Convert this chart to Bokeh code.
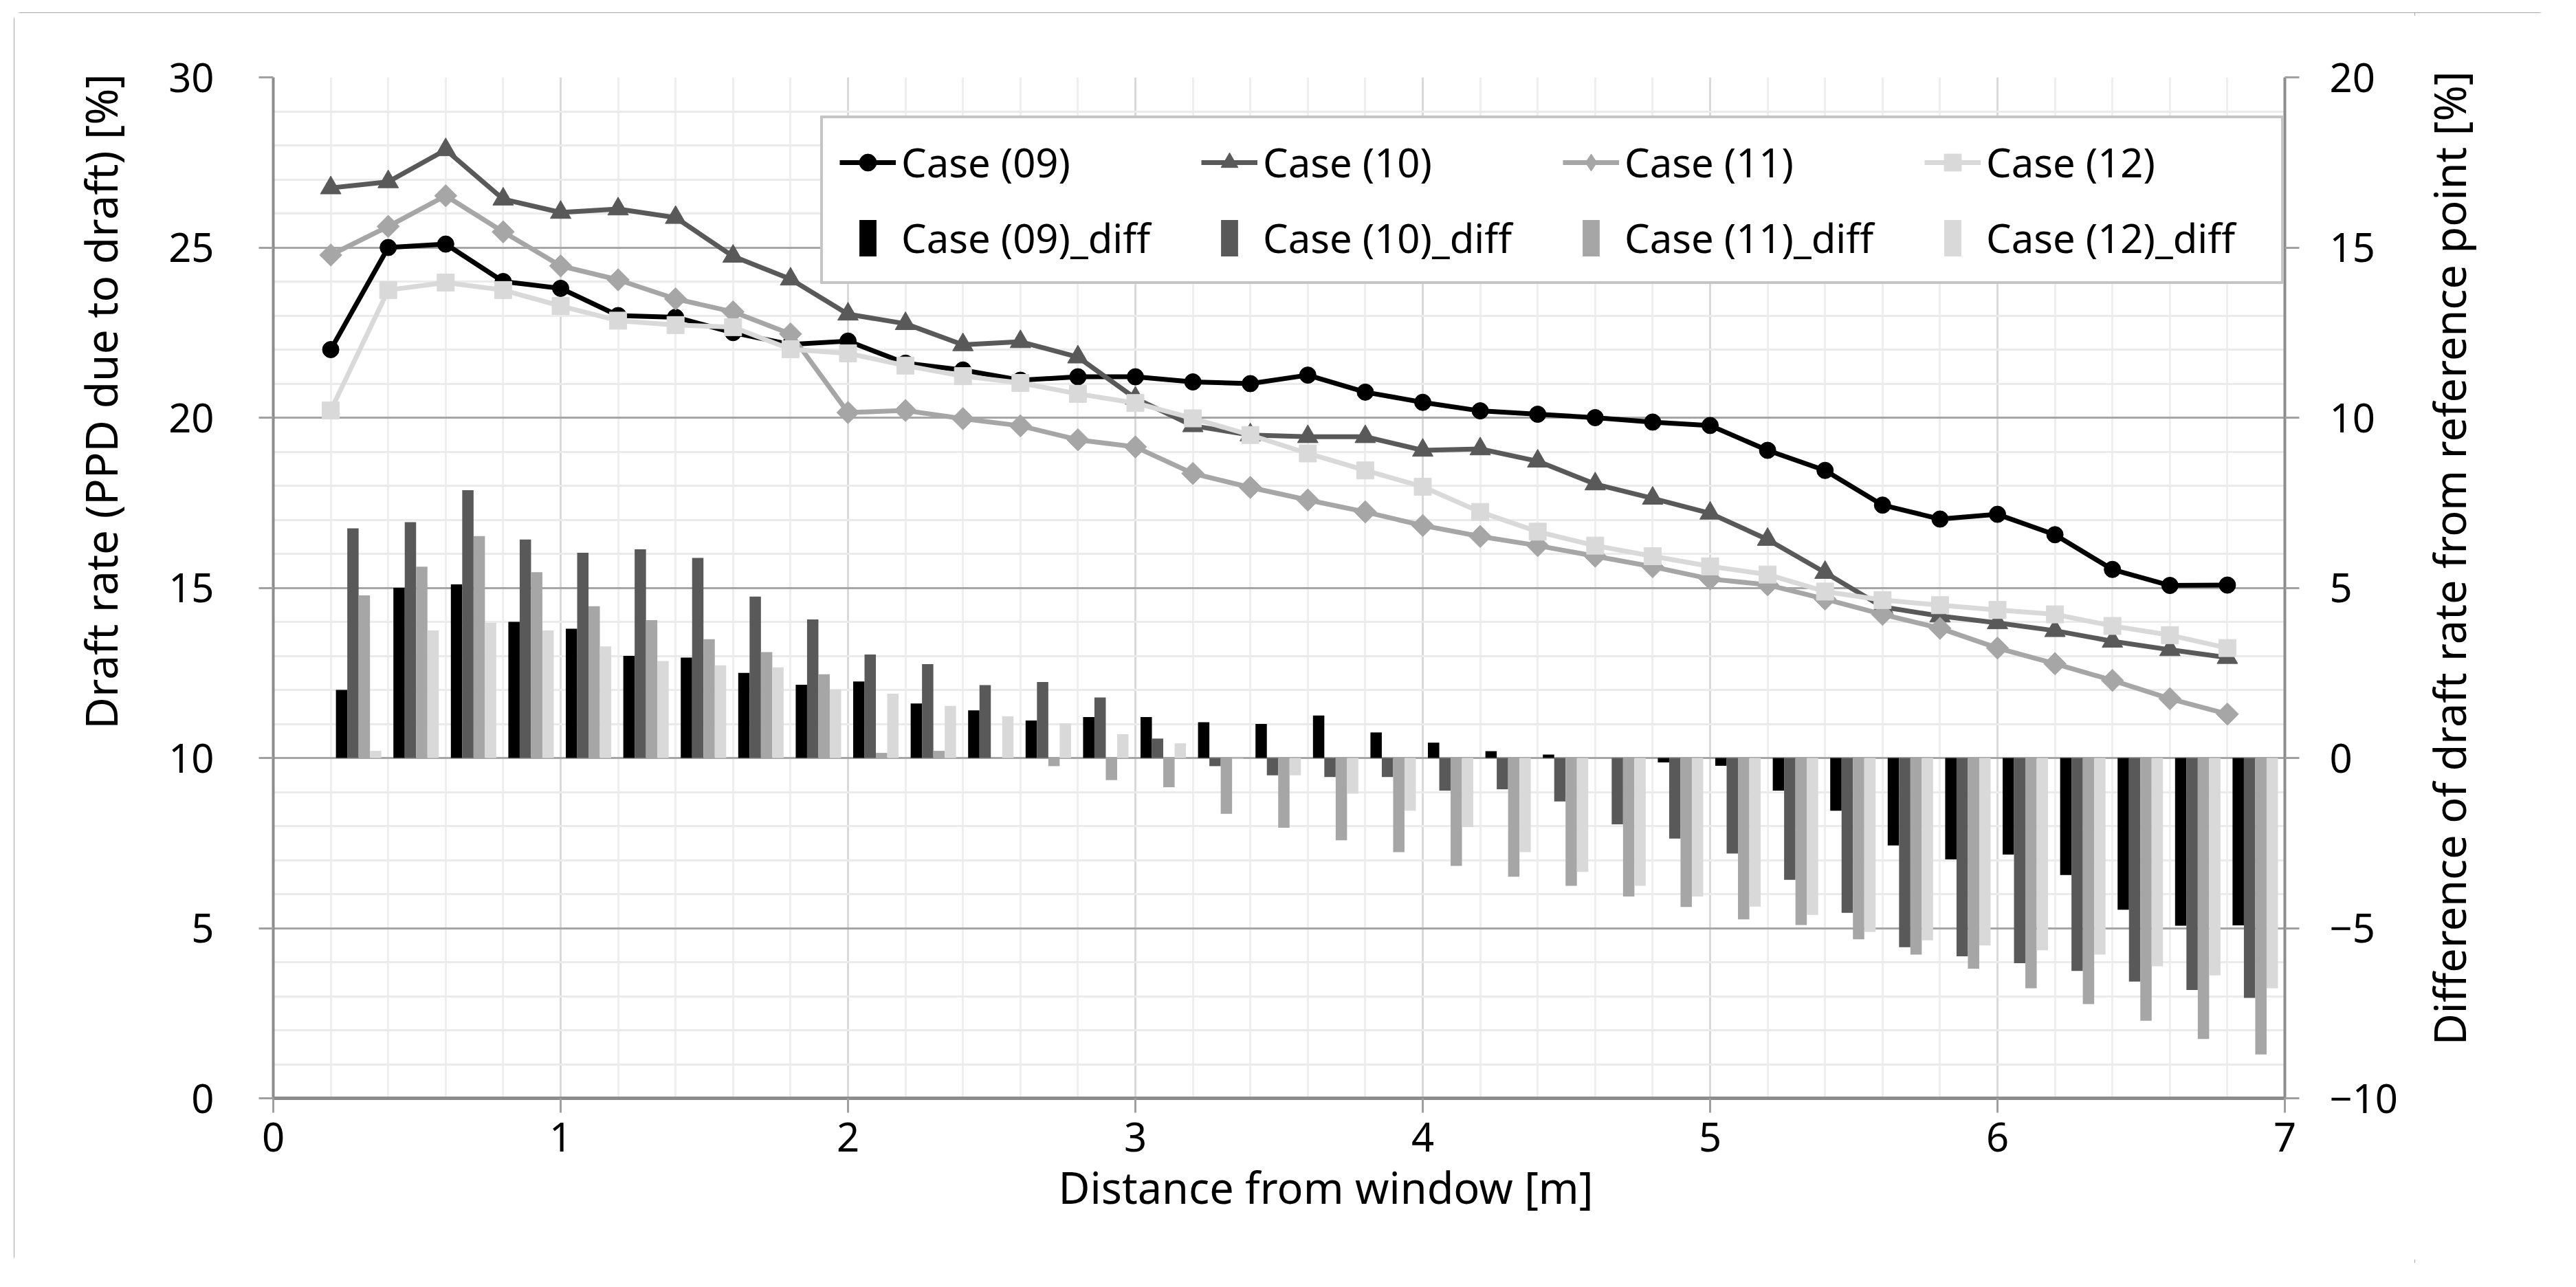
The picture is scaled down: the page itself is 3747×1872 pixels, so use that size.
import math
from bokeh.plotting import figure
from bokeh.layouts import row
from bokeh.models import (Range1d, LinearAxis, SingleIntervalTicker, Legend,
                          LegendItem, Title, ColumnDataSource)
from bokeh.transform import dodge
from bokeh.embed import file_html
from bokeh.resources import INLINE

# ---------------- data ----------------
distance = [0.2, 0.4, 0.6, 0.8, 1.0, 1.2, 1.4, 1.6, 1.8, 2.0, 2.2, 2.4, 2.6, 2.8,
            3.0, 3.2, 3.4, 3.6, 3.8, 4.0, 4.2, 4.4, 4.6, 4.8, 5.0, 5.2, 5.4, 5.6,
            5.8, 6.0, 6.2, 6.4, 6.6, 6.8]

case09 = [22.0, 25.0, 25.1, 24.0, 23.8, 23.0, 22.95, 22.5, 22.15, 22.25, 21.6, 21.4,
          21.1, 21.2, 21.2, 21.05, 21.0, 21.25, 20.75, 20.45, 20.2, 20.1, 20.0, 19.87,
          19.77, 19.04, 18.45, 17.43, 17.02, 17.16, 16.56, 15.54, 15.07, 15.08]
case10 = [26.75, 26.93, 27.87, 26.42, 26.03, 26.13, 25.88, 24.74, 24.07, 23.04, 22.76,
          22.14, 22.23, 21.78, 20.57, 19.76, 19.49, 19.44, 19.44, 19.04, 19.08, 18.72,
          18.05, 17.63, 17.19, 16.42, 15.45, 14.44, 14.17, 13.97, 13.74, 13.43, 13.18, 12.95]
case11 = [24.78, 25.62, 26.52, 25.46, 24.46, 24.05, 23.49, 23.11, 22.46, 20.15, 20.21,
          19.97, 19.76, 19.35, 19.14, 18.36, 17.95, 17.58, 17.23, 16.83, 16.51, 16.24,
          15.93, 15.62, 15.26, 15.09, 14.67, 14.22, 13.81, 13.23, 12.77, 12.28, 11.74, 11.29]
case12 = [20.21, 23.75, 23.97, 23.75, 23.28, 22.85, 22.72, 22.66, 22.01, 21.89, 21.53,
          21.22, 21.02, 20.7, 20.43, 19.98, 19.49, 18.95, 18.45, 17.97, 17.23, 16.65,
          16.24, 15.93, 15.63, 15.39, 14.89, 14.64, 14.49, 14.35, 14.22, 13.88, 13.61, 13.23]

diff09 = [2.0, 5.0, 5.1, 4.0, 3.8, 3.0, 2.95, 2.5, 2.15, 2.25, 1.6, 1.4, 1.1, 1.2, 1.2,
          1.05, 1.0, 1.25, 0.75, 0.45, 0.2, 0.1, 0.0, -0.13, -0.23, -0.96, -1.55, -2.57,
          -2.98, -2.84, -3.44, -4.46, -4.93, -4.92]
diff10 = [6.75, 6.93, 7.87, 6.42, 6.03, 6.13, 5.88, 4.74, 4.07, 3.04, 2.76, 2.14, 2.23,
          1.78, 0.57, -0.24, -0.51, -0.56, -0.56, -0.96, -0.92, -1.28, -1.95, -2.37, -2.81,
          -3.58, -4.55, -5.56, -5.83, -6.03, -6.26, -6.57, -6.82, -7.05]
diff11 = [4.78, 5.62, 6.52, 5.46, 4.46, 4.05, 3.49, 3.11, 2.46, 0.15, 0.21, -0.03, -0.24,
          -0.65, -0.86, -1.64, -2.05, -2.42, -2.77, -3.17, -3.49, -3.76, -4.07, -4.38,
          -4.74, -4.91, -5.33, -5.78, -6.19, -6.77, -7.23, -7.72, -8.26, -8.71]
diff12 = [0.21, 3.75, 3.97, 3.75, 3.28, 2.85, 2.72, 2.66, 2.01, 1.89, 1.53, 1.22, 1.02,
          0.7, 0.43, -0.02, -0.51, -1.05, -1.55, -2.03, -2.77, -3.35, -3.76, -4.07, -4.37,
          -4.61, -5.11, -5.36, -5.51, -5.65, -5.78, -6.12, -6.39, -6.77]

series_names = ["Case (09)", "Case (10)", "Case (11)", "Case (12)"]
diff_names = ["Case (09)_diff", "Case (10)_diff", "Case (11)_diff", "Case (12)_diff"]

x_title = "Distance from window [m]"
y_title = "Draft rate (PPD due to draft) [%]"
y2_title = "Difference of draft rate from reference point [%]"

# ---------------- styling ----------------
FONT = "Noto Sans"
TITLE_SIZE = "63px"
colors = ["#000000", "#595959", "#a6a6a6", "#d9d9d9"]
AX = "#8c8c8c"
TOP, FRAME_H, BOTTOM = 94, 1485, 240

p = figure(frame_width=2926, frame_height=FRAME_H,
           x_range=Range1d(0, 7), y_range=Range1d(0, 30),
           output_backend="svg", toolbar_location=None,
           min_border_left=377, min_border_right=189,
           min_border_top=TOP, min_border_bottom=BOTTOM)
p.outline_line_color = None
p.background_fill_color = "white"
p.border_fill_color = "white"

p.extra_y_ranges = {"diff": Range1d(-10, 20)}

# axes
p.xaxis.ticker = SingleIntervalTicker(interval=1, num_minor_ticks=5)
p.yaxis.ticker = SingleIntervalTicker(interval=5, num_minor_ticks=5)
right_axis = LinearAxis(y_range_name="diff", ticker=SingleIntervalTicker(interval=5))
p.add_layout(right_axis, "right")

for ax in [p.xaxis[0], p.yaxis[0], right_axis]:
    ax.axis_line_color = AX
    ax.axis_line_width = 4
    ax.major_tick_line_color = "#a0a0a0"
    ax.major_tick_line_width = 3
    ax.major_tick_in = 0
    ax.major_tick_out = 21
    ax.minor_tick_line_color = None
    ax.minor_tick_out = 0
    ax.minor_tick_in = 0
    ax.major_label_text_font = FONT
    ax.major_label_text_font_size = "58px"
    ax.major_label_text_color = "#000000"
p.xaxis[0].major_label_standoff = 14
p.xaxis[0].axis_line_width = 5
p.yaxis[0].major_label_standoff = 65
right_axis.major_label_standoff = 44

# grids
p.ygrid.grid_line_color = "#a6a6a6"
p.ygrid.grid_line_width = 3
p.ygrid.minor_grid_line_color = "#ebebeb"
p.ygrid.minor_grid_line_width = 3
p.xgrid.grid_line_color = "#d9d9d9"
p.xgrid.grid_line_width = 3
p.xgrid.minor_grid_line_color = "#eeeeee"
p.xgrid.minor_grid_line_width = 3

# bars (secondary axis)
diffs = [diff09, diff10, diff11, diff12]
bar_w = 0.0395
bar_items = []
for i, (d, c, name) in enumerate(zip(diffs, colors, diff_names)):
    src = ColumnDataSource(dict(x=distance, top=d))
    p.vbar(x=dodge("x", 0.018 + bar_w * (i + 0.5)), top="top", bottom=0,
           width=bar_w, fill_color=c, line_color=None, source=src,
           y_range_name="diff")
    # legend-only symbol (muted -> invisible in the plot, drawn in the legend)
    sym = p.scatter("x", "top", source=src, marker="dash", size=10,
                    line_color=c, line_width=53, line_cap="butt",
                    y_range_name="diff", muted_alpha=0.0)
    sym.muted = True
    bar_items.append(LegendItem(label=name, renderers=[sym]))

# lines
cases = [case09, case10, case11, case12]
line_items = []
specs = [("circle", 24, 0.0), ("triangle", 30, 0.0), ("square", 23, math.pi / 4),
         ("square", 25, 0.0)]
for vals, c, (m, s, ang), name in zip(cases, colors, specs, series_names):
    src = ColumnDataSource(dict(x=distance, y=vals))
    r1 = p.line("x", "y", line_color=c, line_width=7, source=src)
    r2 = p.scatter("x", "y", marker=m, size=s, angle=ang, fill_color=c,
                   line_color=c, source=src)
    rends = [r1, r2]
    if ang != 0.0:
        leg_sym = p.scatter("x", "y", marker="diamond", size=36, fill_color=c,
                            line_color=c, source=src, muted_alpha=0.0)
        leg_sym.muted = True
        rends = [r1, leg_sym]
    line_items.append(LegendItem(label=name, renderers=rends))

legend = Legend(items=line_items + bar_items, location=(796, 1184),
                orientation="horizontal", ncols=4,
                glyph_width=82, glyph_height=62, label_standoff=8,
                label_width=405, spacing=31, padding=24, margin=0,
                border_line_color=AX, border_line_width=4,
                background_fill_color="white", background_fill_alpha=1.0,
                label_text_font=FONT, label_text_font_size="58px",
                label_text_color="#000000")
p.add_layout(legend)

# axis titles (offset applies to left/right alignment)
p.add_layout(Title(text=x_title, align="left", offset=1142, standoff=9,
                   text_font=FONT, text_font_size=TITLE_SIZE,
                   text_font_style="normal", text_color="#000000"), "below")
p.add_layout(Title(text=y_title, align="right", offset=-5, standoff=105,
                   text_font=FONT, text_font_size="64px",
                   text_font_style="normal", text_color="#000000"), "left")

# narrow companion canvas on the right that carries the right-hand title,
# written bottom-to-top like the reference
p2 = figure(frame_width=2, frame_height=FRAME_H, x_axis_type=None,
            y_axis_type=None, output_backend="svg", toolbar_location=None,
            min_border_left=82, min_border_right=92,
            min_border_top=TOP, min_border_bottom=BOTTOM)
p2.outline_line_color = None
p2.background_fill_color = "white"
p2.border_fill_color = "white"
p2.add_layout(Title(text=y2_title, align="right", offset=-9, standoff=10,
                    text_font=FONT, text_font_size=TITLE_SIZE,
                    text_font_style="normal", text_color="#000000"), "left")

layout = row(p, p2, spacing=0)
layout.margin = (18, 0, 0, 20)
layout.styles = {"outline": "5px solid #8a8a8a", "outline-offset": "-5px",
                 "border-radius": "10px"}

open("out.html", "w").write(file_html(layout, INLINE))
